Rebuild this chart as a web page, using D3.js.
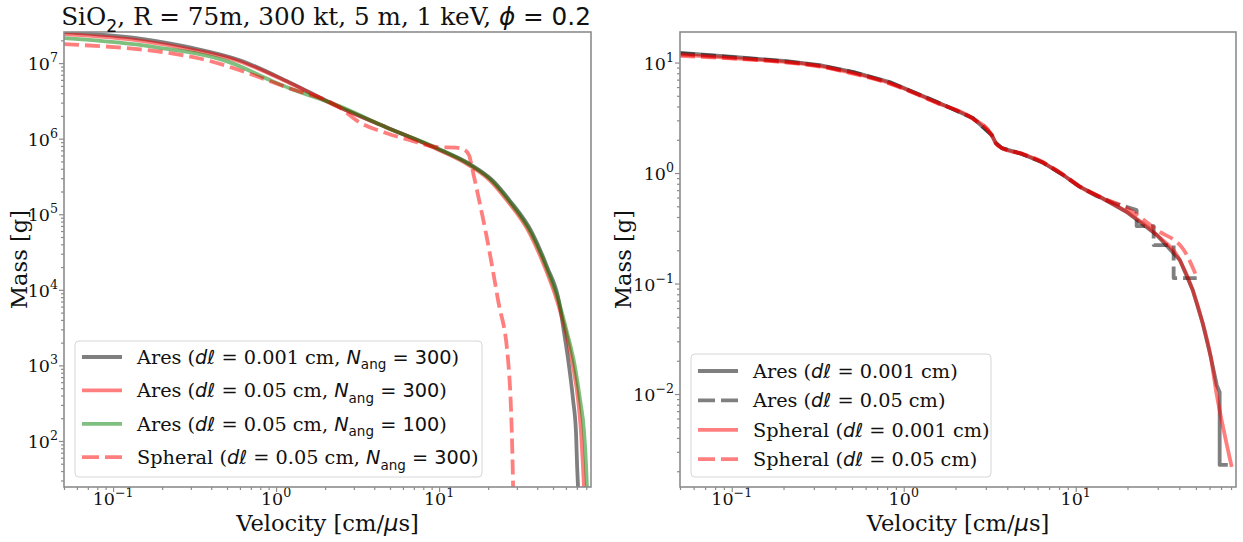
<!DOCTYPE html>
<html>
<head>
<meta charset="utf-8">
<script src="https://cdn.jsdelivr.net/npm/d3@7"></script>
<style>
  body { margin: 0; background: #fff; }
  svg { display: block; }
  text { white-space: pre; }
</style>
</head>
<body>
<script>
// values: [velocity cm/us, mass g]

// left panel
const leftAres001N300 = [
  [0.05, 2.57e7], [0.153, 2.08e7], [0.31, 1.58e7], [0.593, 1.10e7], [1.2, 5.6e6],
  [2.44, 2.62e6], [4.73, 1.42e6], [9.59, 7.5e5], [15.8, 4.48e5], [21.2, 2.83e5],
  [27.0, 1.54e5], [37.3, 5.64e4], [46.0, 2.0e4], [54.2, 7.3e3], [58.5, 2.69e3],
  [62.8, 953], [66.4, 348], [69.2, 128], [70.3, 45.3], [71.3, 22.5]
];
const leftAres005N300 = [
  [0.05, 2.42e7], [0.153, 1.96e7], [0.31, 1.5e7], [0.593, 1.06e7], [1.2, 5.5e6],
  [2.44, 2.6e6], [4.73, 1.42e6], [9.4, 7.5e5], [15.2, 4.48e5], [20.4, 2.83e5],
  [26.0, 1.54e5], [35.9, 5.64e4], [44.5, 2.0e4], [52.8, 7.3e3], [60.1, 2.69e3],
  [66.4, 953], [71.3, 348], [74.3, 128], [76.4, 45.3], [77.6, 22.5]
];
const leftAres005N100 = [
  [0.05, 2.14e7], [0.181, 1.63e7], [0.537, 1.0e7], [0.918, 5.96e6], [1.2, 4.67e6],
  [2.44, 2.7e6], [4.73, 1.42e6], [9.59, 7.6e5], [15.5, 4.5e5], [20.8, 2.85e5],
  [26.5, 1.56e5], [36.6, 5.7e4], [45.3, 2.05e4], [53.7, 7.5e3], [61.0, 2.69e3],
  [68.2, 953], [73.3, 348], [77.6, 128], [79.8, 45.3], [80.9, 22.5]
];
const leftSpheral005N300 = [
  [0.05, 1.78e7], [0.31, 1.2e7], [1.2, 4.67e6], [2.44, 2.62e6], [3.23, 1.66e6],
  [4.73, 1.19e6], [6.55, 9.6e5], [10.0, 7.7e5], [12.7, 7.6e5], [14.2, 7.2e5],
  [15.3, 6.0e5], [15.9, 4.2e5], [17.6, 1.54e5], [19.4, 5.6e4], [23.0, 7.3e3],
  [26.5, 1.18e3], [28.4, 30], [28.5, 20]
];

// right panel
const rightAres001 = [
  [0.05, 12.2], [0.107, 11.2], [0.209, 10.3], [0.325, 9.49], [0.512, 8.2],
  [0.829, 6.67], [1.56, 4.4], [2.52, 3.15], [3.25, 2.21], [3.43, 1.87],
  [3.72, 1.68], [4.86, 1.49], [6.34, 1.26], [8.29, 0.98], [10.4, 0.762],
  [14.2, 0.594], [19.8, 0.444], [29.6, 0.275], [40.3, 0.163], [47.9, 0.0873],
  [54.7, 0.0439], [61.0, 0.0216], [66.1, 0.012], [68.7, 0.0104], [68.7, 0.00228],
  [76.6, 0.00228]
];
const rightAres005 = [
  [0.05, 12.1], [0.107, 11.1], [0.209, 10.2], [0.325, 9.4], [0.512, 8.15],
  [0.829, 6.6], [1.56, 4.4], [2.52, 3.15], [3.25, 2.21], [3.43, 1.87],
  [3.72, 1.68], [4.86, 1.49], [6.34, 1.26], [8.29, 0.98], [10.4, 0.762],
  [13.2, 0.619], [16.6, 0.535], [22.6, 0.463], [22.6, 0.331], [28.4, 0.331],
  [28.4, 0.223], [37.1, 0.223], [37.1, 0.112], [50.5, 0.112]
];
const rightSpheral001 = [
  [0.05, 11.8], [0.107, 10.9], [0.209, 10.1], [0.325, 9.3], [0.512, 8.0],
  [0.829, 6.5], [1.56, 4.33], [2.52, 3.12], [3.25, 2.2], [3.43, 1.86],
  [3.72, 1.68], [4.86, 1.49], [6.34, 1.26], [8.29, 0.98], [10.4, 0.762],
  [14.2, 0.594], [19.8, 0.444], [29.6, 0.275], [40.3, 0.163], [47.9, 0.0873],
  [54.7, 0.0439], [61.0, 0.0216], [66.1, 0.0098], [73.5, 0.00426], [80.7, 0.00219]
];
const rightSpheral005 = [
  [0.05, 11.5], [0.107, 10.8], [0.209, 10.0], [0.325, 9.2], [0.512, 7.9],
  [0.829, 6.45], [1.56, 4.3], [2.52, 3.1], [3.25, 2.2], [3.43, 1.86],
  [3.72, 1.69], [4.86, 1.5], [6.34, 1.27], [8.29, 0.99], [10.4, 0.77],
  [14.2, 0.6], [19.8, 0.482], [29.6, 0.305], [42.5, 0.201], [50.5, 0.115]
];

const xMajor = [0.1, 1, 10];
const leftYMajor = [1e2, 1e3, 1e4, 1e5, 1e6, 1e7];
const rightYMajor = [1e-2, 1e-1, 1e0, 1e1];

const SERIF = "DejaVu Serif", SANS = "DejaVu Sans";
const FRAME = "#8c8c8c";
const LEG_FS = 19.3, TICK_FS = 17.5, LABEL_FS = 22.6, TITLE_FS = 24.7;

const svg = d3.select("body").append("svg")
    .attr("width", 1243).attr("height", 542);

// log-axis minor ticks between the majors
function minorTicks(domain) {
  const out = [];
  const lo = Math.floor(Math.log10(domain[0])), hi = Math.ceil(Math.log10(domain[1]));
  for (let e = lo; e <= hi; e++)
    for (let m = 2; m <= 9; m++) {
      const v = m * Math.pow(10, e);
      if (v >= domain[0] && v <= domain[1]) out.push(v);
    }
  return out;
}

// "10^k" label
function powLabel(sel, v) {
  const e = Math.round(Math.log10(v));
  sel.append("tspan").text("10");
  sel.append("tspan").attr("dy", -8).attr("font-size", TICK_FS * 0.72)
      .text(e < 0 ? "\u2212" + (-e) : String(e));
}

// mixed serif / mathtext label
function richText(sel, segs, size) {
  let shift = 0;
  segs.forEach(([t, s]) => {
    const ts = sel.append("tspan").text(t);
    if (s === "i") ts.attr("font-family", SANS).attr("font-style", "italic");
    else if (s === "m") ts.attr("font-family", SANS);
    else ts.attr("font-family", SERIF);
    if (s === "sub") {
      ts.attr("font-family", SANS).attr("font-size", size * 0.7).attr("dy", size * 0.28);
      shift = size * 0.28;
    } else if (shift) {
      ts.attr("dy", -shift);
      shift = 0;
    }
  });
}

const dl = [["d\u2113", "i"]];

function drawPanel(p) {
  const x = d3.scaleLog().domain(p.xDomain).range([p.x0, p.x1]);
  const y = d3.scaleLog().domain(p.yDomain).range([p.y1, p.y0]);
  const g = svg.append("g");

  const clipId = "clip" + p.id;
  g.append("clipPath").attr("id", clipId).append("rect")
      .attr("x", p.x0).attr("y", p.y0)
      .attr("width", p.x1 - p.x0).attr("height", p.y1 - p.y0);

  // ticks
  const ax = g.append("g").attr("transform", `translate(0,${p.y1})`);
  ax.append("g").call(d3.axisBottom(x).tickValues(minorTicks(p.xDomain)).tickSize(3).tickFormat(""));
  ax.append("g").call(d3.axisBottom(x).tickValues(xMajor).tickSize(5).tickFormat(""));
  const ay = g.append("g").attr("transform", `translate(${p.x0},0)`);
  ay.append("g").call(d3.axisLeft(y).tickValues(minorTicks(p.yDomain)).tickSize(3).tickFormat(""));
  ay.append("g").call(d3.axisLeft(y).tickValues(p.yMajor).tickSize(5).tickFormat(""));
  g.selectAll(".domain").remove();
  g.selectAll(".tick line").attr("stroke", FRAME).attr("stroke-width", 1.2);

  // tick labels
  xMajor.forEach(v => {
    g.append("text").attr("x", x(v)).attr("y", p.y1 + 18)
        .attr("text-anchor", "middle").attr("font-family", SERIF)
        .attr("font-size", TICK_FS).attr("fill", "#111").call(powLabel, v);
  });
  p.yMajor.forEach(v => {
    g.append("text").attr("x", p.x0 - 6).attr("y", y(v) + 7)
        .attr("text-anchor", "end").attr("font-family", SERIF)
        .attr("font-size", TICK_FS).attr("fill", "#111").call(powLabel, v);
  });

  // curves
  const plot = g.append("g").attr("clip-path", `url(#${clipId})`);
  p.series.forEach(s => {
    const line = d3.line().x(d => x(d[0])).y(d => y(d[1]))
        .curve(s.step ? d3.curveLinear : d3.curveMonotoneX);
    plot.append("path").datum(s.data)
        .attr("d", line)
        .attr("fill", "none")
        .attr("stroke", s.color)
        .attr("stroke-opacity", 0.5)
        .attr("stroke-width", 3.8)
        .attr("stroke-dasharray", s.dash ? "15,6" : null)
        .attr("stroke-linejoin", "round");
  });

  // frame
  g.append("rect").attr("x", p.x0).attr("y", p.y0)
      .attr("width", p.x1 - p.x0).attr("height", p.y1 - p.y0)
      .attr("fill", "none").attr("stroke", FRAME).attr("stroke-width", 1.6);

  // axis labels
  g.append("text").attr("x", (p.x0 + p.x1) / 2).attr("y", 531)
      .attr("text-anchor", "middle").attr("font-size", LABEL_FS).attr("fill", "#111")
      .call(richText, [["Velocity [cm/", "r"], ["\u03bc", "i"], ["s]", "r"]], LABEL_FS);
  g.append("text")
      .attr("transform", `translate(${p.yLabelX},${(p.y0 + p.y1) / 2}) rotate(-90)`)
      .attr("text-anchor", "middle").attr("font-family", SERIF)
      .attr("font-size", LABEL_FS).attr("fill", "#111").text("Mass [g]");

  // legend
  const L = p.legend;
  g.append("rect").attr("x", L.x).attr("y", L.y)
      .attr("width", L.w).attr("height", L.h).attr("rx", 4)
      .attr("fill", "#fff").attr("fill-opacity", 0.8)
      .attr("stroke", "#d6d6d6").attr("stroke-width", 1);
  p.series.forEach((s, i) => {
    const cy = L.y + L.first + i * L.step;
    g.append("line").attr("x1", L.x + 7).attr("x2", L.x + 47)
        .attr("y1", cy).attr("y2", cy)
        .attr("stroke", s.color).attr("stroke-opacity", 0.5)
        .attr("stroke-width", 3.8)
        .attr("stroke-dasharray", s.dash ? "17,6" : null);
    g.append("text").attr("x", L.x + 62).attr("y", cy + 7)
        .attr("font-size", LEG_FS).attr("fill", "#111")
        .call(richText, s.label, LEG_FS);
  });
}

drawPanel({
  id: "L", x0: 64, x1: 591, y0: 32, y1: 487,
  xDomain: [0.05, 85.5], yDomain: [24.6, 2.58e7], yMajor: leftYMajor, yLabelX: 27,
  legend: { x: 75, y: 341, w: 407, h: 136, first: 16, step: 33.4 },
  series: [
    { data: leftAres001N300, color: "#000", label: [["Ares (", "r"], ...dl, [" = 0.001 cm, ", "r"], ["N", "i"], ["ang", "sub"], [" = 300", "m"], [")", "r"]] },
    { data: leftAres005N300, color: "#f00", label: [["Ares (", "r"], ...dl, [" = 0.05 cm, ", "r"], ["N", "i"], ["ang", "sub"], [" = 300", "m"], [")", "r"]] },
    { data: leftAres005N100, color: "#008000", label: [["Ares (", "r"], ...dl, [" = 0.05 cm, ", "r"], ["N", "i"], ["ang", "sub"], [" = 100", "m"], [")", "r"]] },
    { data: leftSpheral005N300, color: "#f00", dash: true, label: [["Spheral (", "r"], ...dl, [" = 0.05 cm, ", "r"], ["N", "i"], ["ang", "sub"], [" = 300", "m"], [")", "r"]] }
  ]
});

drawPanel({
  id: "R", x0: 680, x1: 1236, y0: 32, y1: 487,
  xDomain: [0.05, 85.5], yDomain: [0.00144, 18.9], yMajor: rightYMajor, yLabelX: 631,
  legend: { x: 691, y: 354, w: 300, h: 123, first: 17, step: 29.4 },
  series: [
    { data: rightAres001, color: "#000", step: true, label: [["Ares (", "r"], ...dl, [" = 0.001 cm)", "r"]] },
    { data: rightAres005, color: "#000", dash: true, step: true, label: [["Ares (", "r"], ...dl, [" = 0.05 cm)", "r"]] },
    { data: rightSpheral001, color: "#f00", label: [["Spheral (", "r"], ...dl, [" = 0.001 cm)", "r"]] },
    { data: rightSpheral005, color: "#f00", dash: true, label: [["Spheral (", "r"], ...dl, [" = 0.05 cm)", "r"]] }
  ]
});

// title over the left panel
svg.append("text").attr("x", 326).attr("y", 25)
    .attr("text-anchor", "middle").attr("font-size", TITLE_FS).attr("fill", "#111")
    .call(richText, [["SiO", "r"], ["2", "sub"], [", R = 75m, 300 kt, 5 m, 1 keV, ", "r"], ["\u03d5", "i"], [" = 0.2", "m"]], TITLE_FS);
</script>
</body>
</html>
